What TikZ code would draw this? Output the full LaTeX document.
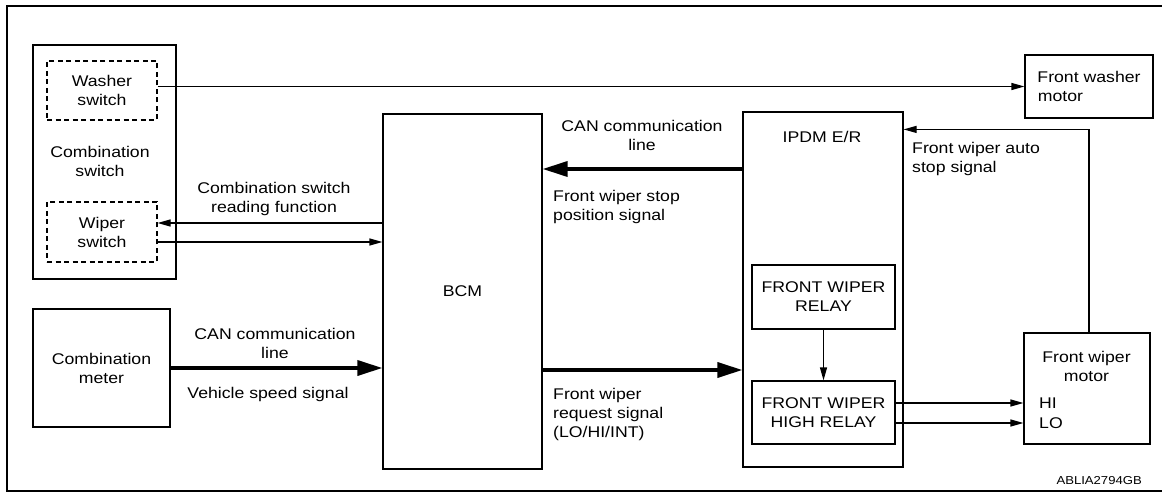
\documentclass[tikz,border=0pt]{standalone}
\usepackage{fontspec}
\setmainfont{Liberation Sans}[FakeStretch=1.14]
\usetikzlibrary{arrows.meta}

\begin{document}
\begin{tikzpicture}[
            x=1pt, y=-1pt,
            font=\fontsize{15.5}{19}\selectfont,
            box/.style={draw=black, line width=1.2pt, inner sep=0pt, align=center},
            dashbox/.style={box, dash pattern=on 5pt off 3.5pt},
            txt/.style={inner sep=0pt, align=center},
            ltxt/.style={inner sep=0pt, align=left, anchor=west},
            sig/.style={-{Triangle[length=13pt, width=7pt]}, line width=1.2pt},
            bus/.style={-{Triangle[length=25pt, width=15pt]}, line width=3.5pt},
            ]
            \useasboundingbox (0,0) rectangle (1162,494);
            \draw[line width=2.6pt] (1170,6) -- (7,6) -- (7,491) -- (1170,491);

            \node[box, minimum width=143pt, minimum height=234pt]  (cs)     at (104.5,162) {};
            \node[dashbox, minimum width=110pt, minimum height=59pt] (washer) at (102,90.5) {Washer\\switch};
            \node[dashbox, minimum width=110pt, minimum height=60pt] (wiper)  at (102,232) {Wiper\\switch};
            \node[txt]                                              (cslbl)  at (100,161.5) {Combination\\switch};
            \node[box, minimum width=137pt, minimum height=118pt]  (meter)  at (101.5,368) {Combination\\meter};

            \node[box, minimum width=159pt, minimum height=355pt]  (bcm)    at (462.5,291.5) {BCM};

            \node[box, minimum width=160pt, minimum height=355pt]  (ipdm)   at (823,289.5) {};
            \node[txt]                                              (ipdmlbl) at (822,137) {IPDM E/R};
            \node[box, minimum width=143pt, minimum height=64pt]   (relay)  at (823.5,297) {FRONT WIPER\\RELAY};
            \node[box, minimum width=143pt, minimum height=63pt]   (hrelay) at (823.5,412.5) {FRONT WIPER\\HIGH RELAY};

            \node[box, minimum width=128pt, minimum height=63pt]   (fwm)    at (1089,86.5) {Front washer\\motor\hphantom{washer}};
            \node[box, minimum width=126pt, minimum height=111pt]  (motor)  at (1087,388.5) {};
            \node[txt]                                              (motorlbl) at (1086.5,366.5) {Front wiper\\motor};
            \node[ltxt]                                             (hi)     at (1039,403) {HI};
            \node[ltxt]                                             (lo)     at (1039,423) {LO};

            \node[txt]  (l1) at (274,198.5) {Combination switch\\reading function};
            \node[txt]  (l2) at (642,135.5) {CAN communication\\line};
            \node[ltxt] (l3) at (553,206.5) {Front wiper stop\\position signal};
            \node[txt]  (l4) at (275,343.5) {CAN communication\\line};
            \node[txt]  (l5) at (268,394) {Vehicle speed signal};
            \node[ltxt] (l6) at (553,414) {Front wiper\\request signal\\(LO/HI/INT)};
            \node[ltxt] (l7) at (912,158.5) {Front wiper auto\\stop signal};
            \node[txt, anchor=east, font=\fontsize{11.5}{13}\selectfont] (code) at (1142,481) {ABLIA2794GB};

            \coordinate (w1) at ([yshift=9pt]wiper.east);
            \coordinate (w2) at ([yshift=-10pt]wiper.east);
            \coordinate (st) at ([yshift=-18pt]ipdm.north east);

            \draw[sig] (washer.east |- fwm.west) -- (fwm.west);
            \draw[sig] (bcm.west |- w1) -- (w1);
            \draw[sig] (w2) -- (bcm.west |- w2);
            \draw[bus] (meter.east) -- (meter.east -| bcm.west);
            \draw[bus] (ipdm.west |- 0,169) -- (bcm.east |- 0,169);
            \draw[bus] (bcm.east |- 0,370) -- (ipdm.west |- 0,370);
            \draw[sig] (relay.south) -- (hrelay.north);
            \draw[sig] (hrelay.east |- hi) -- (motor.west |- hi);
            \draw[sig] (hrelay.east |- lo) -- (motor.west |- lo);
            \draw[sig] ([xshift=2pt]motor.north) |- (st);
        \end{tikzpicture}
\end{document}
